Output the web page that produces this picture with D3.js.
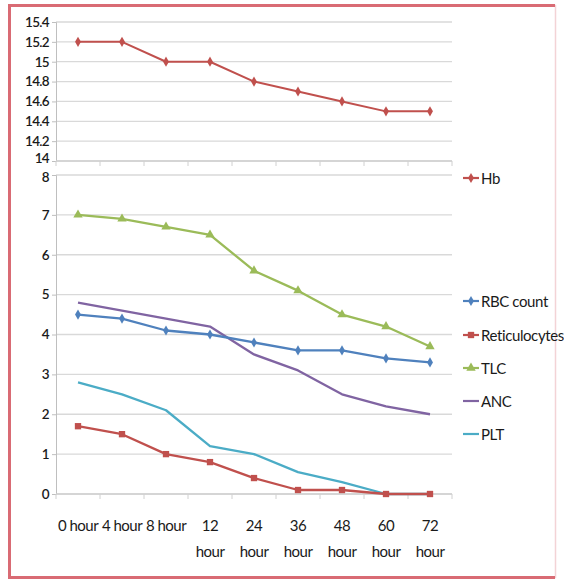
<!DOCTYPE html>
<html><head><meta charset="utf-8">
<script src="https://cdn.jsdelivr.net/npm/d3@7/dist/d3.min.js"></script>
<style>
html,body{margin:0;padding:0;background:#fff;}
svg text{font-family:Lato,"Open Sans",sans-serif;fill:#1a1a1a;}
</style></head>
<body>
<script>
const categories = ["0 hour","4 hour","8 hour","12 hour","24 hour","36 hour","48 hour","60 hour","72 hour"];
const hb = [15.2,15.2,15.0,15.0,14.8,14.7,14.6,14.5,14.5];
const rbc = [4.5,4.4,4.1,4.0,3.8,3.6,3.6,3.4,3.3];
const retic = [1.7,1.5,1.0,0.8,0.4,0.1,0.1,0,0];
const tlc = [7.0,6.9,6.7,6.5,5.6,5.1,4.5,4.2,3.7];
const anc = [4.8,4.6,4.4,4.2,3.5,3.1,2.5,2.2,2.0];
const plt = [2.8,2.5,2.1,1.2,1.0,0.55,0.3,0,0];
const hbTicks = [14,14.2,14.4,14.6,14.8,15,15.2,15.4];
const lowTicks = [0,1,2,3,4,5,6,7,8];

const W=564,H=581;
const svg=d3.select("body").append("svg").attr("width",W).attr("height",H);

svg.append("rect").attr("x",9.5).attr("y",5.5).attr("width",546).attr("height",572)
  .attr("fill","none").attr("stroke","#f3d3d6").attr("stroke-width",1.5);
const bc="#d96b74";
svg.append("path").attr("d","M555,5.5 H9.5 V577.5 H555").attr("fill","none").attr("stroke",bc).attr("stroke-width",3);

const x=d3.scalePoint().domain(categories).range([56,452]).padding(0.5);
const step=x.step();
const left=56,right=452;

const yTop=d3.scaleLinear().domain([14,15.4]).range([161,22]);
const yBot=d3.scaleLinear().domain([0,8]).range([494,175]);

function panel(y,ticks,fmt,edgeShift){
  const g=svg.append("g");
  g.selectAll("line.grid").data(ticks).join("line")
    .attr("x1",left).attr("x2",right).attr("y1",d=>y(d)).attr("y2",d=>y(d))
    .attr("stroke","#d9d9d9").attr("stroke-width",1.3);
  const ya=d3.axisLeft(y).tickValues(ticks).tickFormat(fmt).tickSize(4).tickPadding(3);
  const ag=g.append("g").attr("transform",`translate(${left},0)`).call(ya);
  ag.select(".domain").attr("stroke","#bfbfbf");
  ag.selectAll(".tick line").attr("stroke","#bfbfbf");
  ag.selectAll("text").style("font-size","13.5px").style("letter-spacing","-0.7px").attr("fill","#1a1a1a").style("font-weight","600");
  if(edgeShift) edgeShift(ag);
  const base=y.range()[0];
  const bounds=d3.range(categories.length+1).map(i=>left+i*step);
  g.selectAll("line.xt").data(bounds).join("line")
    .attr("x1",d=>d).attr("x2",d=>d).attr("y1",base).attr("y2",base+5)
    .attr("stroke","#d0d0d0");
  g.append("line").attr("x1",left).attr("x2",right).attr("y1",base).attr("y2",base).attr("stroke","#d0d0d0").attr("stroke-width",1.3);
  return g;
}
panel(yTop,hbTicks,d=>d3.format("")(+d.toFixed(1)),
  ag=>ag.selectAll(".tick text").filter(d=>d===14).attr("dy","0.1em"));
panel(yBot,lowTicks,d3.format("d"),
  ag=>ag.selectAll(".tick text").filter(d=>d===8).attr("dy","0.45em"));

const xl=svg.append("g");
categories.forEach(c=>{
  const t=xl.append("text").attr("x",x(c)).attr("y",531).attr("text-anchor","middle")
    .style("font-size","15px").style("letter-spacing","-0.5px").text(c);
  if(c.length>6){
    const parts=c.split(" ");
    t.text(null);
    parts.forEach((p,i)=>t.append("tspan").attr("x",x(c)).attr("dy",i?26:0).text(p));
  }
});

function marker(g,type,color,pts){
  const sym={diamond:d3.symbolDiamond,square:d3.symbolSquare,triangle:d3.symbolTriangle}[type];
  const size={diamond:30,square:40,triangle:38}[type];
  g.selectAll("path.m").data(pts).join("path").attr("class","m")
    .attr("transform",d=>`translate(${d[0]},${d[1]})`)
    .attr("d",d3.symbol(sym,size)).attr("fill",color);
}

const series=[
  {name:"Hb",vals:hb,color:"#c0504d",mk:"diamond",y:yTop,ly:178,w:2},
  {name:"RBC count",vals:rbc,color:"#4f81bd",mk:"diamond",y:yBot,ly:301,w:2.3},
  {name:"Reticulocytes",vals:retic,color:"#c0504d",mk:"square",y:yBot,ly:335,w:2.3},
  {name:"TLC",vals:tlc,color:"#9bbb59",mk:"triangle",y:yBot,ly:368,w:2.3},
  {name:"ANC",vals:anc,color:"#8064a2",mk:null,y:yBot,ly:401,w:2.3},
  {name:"PLT",vals:plt,color:"#4bacc6",mk:null,y:yBot,ly:434,w:2.3}
];
const order=["TLC","ANC","RBC count","PLT","Reticulocytes","Hb"];
order.forEach(n=>{
  const s=series.find(d=>d.name===n);
  const pts=s.vals.map((v,i)=>[x(categories[i]),s.y(v)]);
  const g=svg.append("g");
  g.append("path").attr("d",d3.line()(pts)).attr("fill","none").attr("stroke",s.color).attr("stroke-width",s.w).attr("stroke-linejoin","round");
  if(s.mk) marker(g,s.mk,s.color,pts);
});

series.forEach(s=>{
  const g=svg.append("g").attr("transform",`translate(463,${s.ly})`);
  g.append("line").attr("x1",0).attr("x2",16).attr("stroke",s.color).attr("stroke-width",2.2);
  if(s.mk) marker(g,s.mk,s.color,[[8,0]]);
  g.append("text").attr("x",18).attr("y",5.5).style("font-size","15px").style("letter-spacing","-0.4px").text(s.name);
});
</script>
</body></html>
